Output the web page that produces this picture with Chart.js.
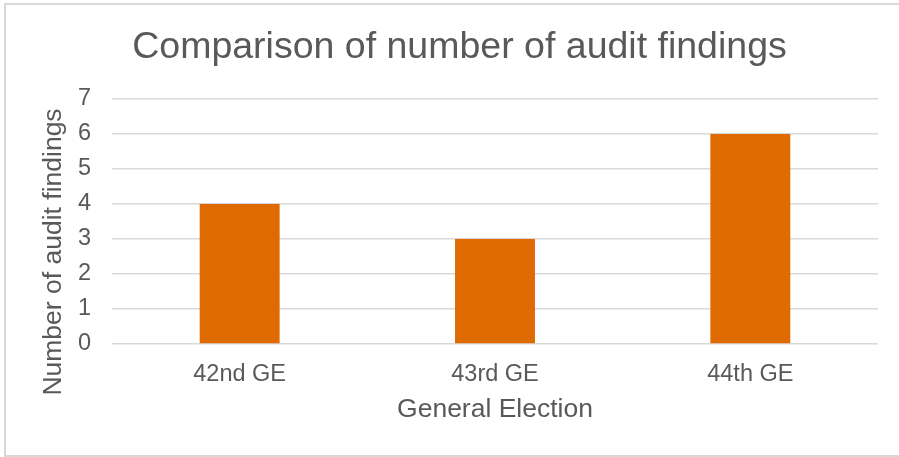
<!DOCTYPE html>
<html>
<head>
<meta charset="utf-8">
<script src="https://cdn.jsdelivr.net/npm/chart.js@4.4.0/dist/chart.umd.min.js"></script>
<style>
    body { margin: 0; background: #fff; overflow: hidden; }
    #frame {
        position: absolute; left: 4px; top: 3px;
        width: 900px; height: 450px;
        border: 2px solid #d9d9d9;
    }
    #chart { position: absolute; left: 0; top: 0; }
</style>
</head>
<body>
<div id="frame"></div>
<canvas id="chart" width="899" height="457"></canvas>
<script>
// Chart data
const categories = ['42nd GE', '43rd GE', '44th GE'];
const findings = [4, 3, 6];
const yTicks = [0, 1, 2, 3, 4, 5, 6, 7];

const chartTitle = 'Comparison of number of audit findings';
const xTitle = 'General Election';
const yTitle = 'Number of audit findings';

const textColor = '#595959';
const fontFamily = '"Liberation Sans", Arial, sans-serif';

// Draw the y axis title centred like the original (below the plot centre)
const yTitlePlugin = {
    id: 'yTitle',
    afterDraw(chart) {
        const ctx = chart.ctx;
        ctx.save();
        ctx.translate(54, 252);
        ctx.rotate(-Math.PI / 2);
        ctx.font = '26.5px ' + fontFamily;
        ctx.fillStyle = textColor;
        ctx.textAlign = 'center';
        ctx.textBaseline = 'middle';
        ctx.fillText(yTitle, 0, 0);
        ctx.restore();
    }
};

const ctx = document.getElementById('chart').getContext('2d');
new Chart(ctx, {
    type: 'bar',
    data: {
        labels: categories,
        datasets: [{
            label: 'Findings',
            data: findings,
            backgroundColor: '#DF6A00',
            categoryPercentage: 1,
            barPercentage: 0.313
        }]
    },
    options: {
        responsive: false,
        animation: false,
        layout: { padding: { left: 41, right: 21, top: 0, bottom: 31 } },
        plugins: {
            legend: { display: false },
            tooltip: { enabled: false },
            title: {
                display: true,
                text: chartTitle,
                color: textColor,
                font: { family: fontFamily, size: 37.5, weight: 'normal', lineHeight: 1.2 },
                padding: { top: 25, bottom: 29 }
            }
        },
        scales: {
            x: {
                grid: { display: false },
                border: { display: false },
                ticks: {
                    color: textColor,
                    padding: 11,
                    font: { family: fontFamily, size: 23.5, lineHeight: 1 }
                },
                title: {
                    display: true,
                    text: xTitle,
                    color: textColor,
                    padding: { top: 0, bottom: 0 },
                    font: { family: fontFamily, size: 26.5, lineHeight: 1.2 }
                },
                afterFit: s => { s.height = 82; }
            },
            y: {
                min: 0,
                max: 7,
                grid: { color: '#d9d9d9', lineWidth: 1.5, drawTicks: false },
                border: { display: false },
                afterBuildTicks: s => { s.ticks = yTicks.map(v => ({ value: v })); },
                ticks: {
                    color: textColor,
                    padding: 21,
                    font: { family: fontFamily, size: 23.5 }
                },
                afterFit: s => { s.width = 71; }
            }
        }
    },
    plugins: [yTitlePlugin]
});
</script>
</body>
</html>
